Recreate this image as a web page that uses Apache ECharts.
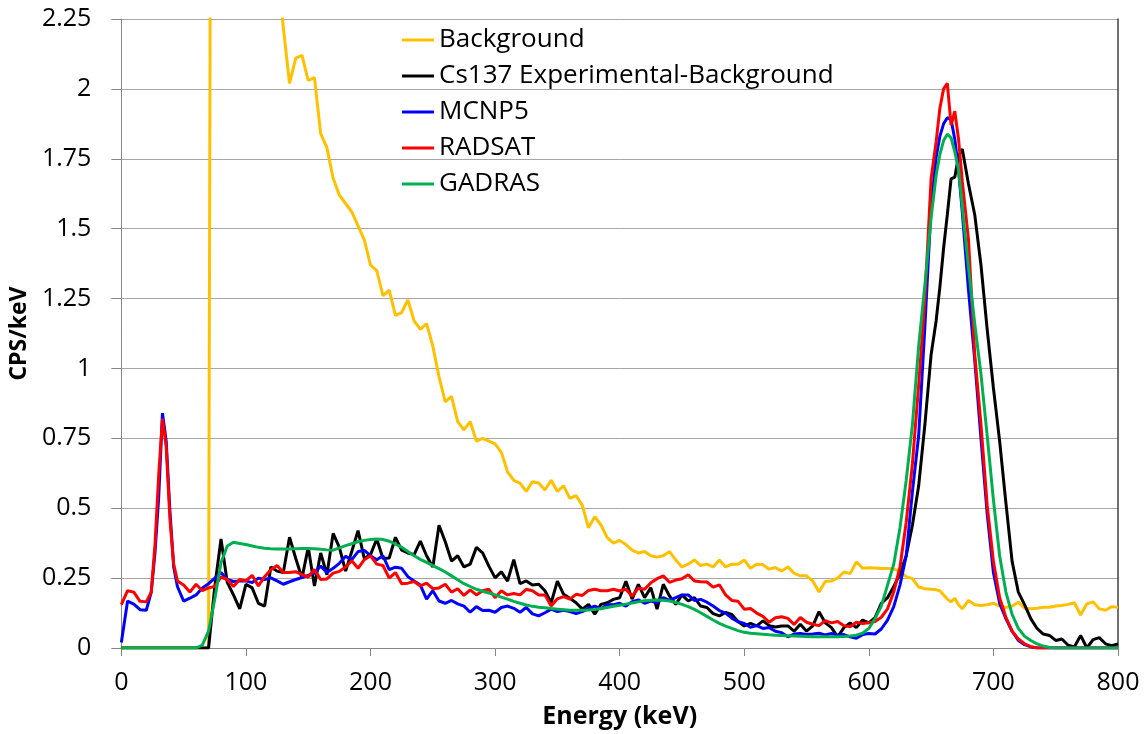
<!DOCTYPE html>
<html>
<head>
<meta charset="utf-8">
<script src="https://cdn.jsdelivr.net/npm/echarts@6/dist/echarts.min.js"></script>
<style>
  html, body { margin: 0; padding: 0; background: #ffffff; }
  #chart { width: 1146px; height: 734px; }
</style>
</head>
<body>
<div id="chart"></div>
<script>
// Energy bins (keV) shared by every spectrum
const energy = [
  0, 5, 10, 15, 20, 24, 27, 30, 33, 36, 39, 42,
  45, 50, 55, 60, 65, 70, 75, 80, 85, 90, 95, 100,
  105, 110, 115, 120, 125, 130, 135, 140, 145, 150,
  155, 160, 165, 170, 175, 180, 185, 190, 195, 200,
  205, 210, 215, 220, 225, 230, 235, 240, 245, 250,
  255, 260, 265, 270, 275, 280, 285, 290, 295, 300,
  305, 310, 315, 320, 325, 330, 335, 340, 345, 350,
  355, 360, 365, 370, 375, 380, 385, 390, 395, 400,
  405, 410, 415, 420, 425, 430, 435, 440, 445, 450,
  455, 460, 465, 470, 475, 480, 485, 490, 495, 500,
  505, 510, 515, 520, 525, 530, 535, 540, 545, 550,
  555, 560, 565, 570, 575, 580, 585, 590, 595, 600,
  605, 610, 615, 620, 625, 630, 635, 640, 645, 650,
  654, 657, 660, 663, 666, 669, 672, 675,
  680, 685, 690, 695, 700,
  705, 710, 715, 720, 725, 730, 735, 740, 745, 750,
  755, 760, 765, 770, 775, 780, 785, 790, 795, 800
];

// CPS/keV for each spectrum, one value per energy bin
const background = [
  0, 0, 0, 0, 0, 0, 0, 0, 0, 0, 0, 0,
  0, 0, 0, 0, 0, 0, 9.0, 8.0, 6.6, 5.6, 4.8, 4.2,
  3.7, 3.25, 2.95, 2.7, 2.48, 2.22, 2.02, 2.11, 2.12, 2.03,
  2.04, 1.84, 1.79, 1.68, 1.62, 1.59, 1.56, 1.51, 1.46, 1.37,
  1.35, 1.26, 1.28, 1.19, 1.2, 1.245, 1.17, 1.14, 1.16, 1.08,
  0.97, 0.88, 0.9, 0.81, 0.78, 0.81, 0.74, 0.75, 0.74, 0.73,
  0.70, 0.63, 0.60, 0.59, 0.56, 0.595, 0.59, 0.565, 0.60, 0.56,
  0.58, 0.535, 0.545, 0.51, 0.43, 0.47, 0.44, 0.395, 0.375, 0.385,
  0.37, 0.35, 0.34, 0.345, 0.33, 0.325, 0.33, 0.345, 0.315, 0.29,
  0.30, 0.315, 0.295, 0.30, 0.29, 0.315, 0.29, 0.30, 0.30, 0.315,
  0.285, 0.30, 0.298, 0.282, 0.288, 0.275, 0.29, 0.268, 0.258, 0.258,
  0.24, 0.20, 0.238, 0.24, 0.25, 0.272, 0.266, 0.308, 0.285, 0.287,
  0.286, 0.284, 0.284, 0.283, 0.274, 0.255, 0.248, 0.218, 0.212, 0.21,
  0.208, 0.205, 0.19, 0.175, 0.165, 0.178, 0.155, 0.14,
  0.17, 0.155, 0.152, 0.155, 0.16,
  0.15, 0.145, 0.15, 0.164, 0.142, 0.14, 0.142, 0.146, 0.146, 0.15,
  0.152, 0.156, 0.162, 0.118, 0.158, 0.165, 0.14, 0.135, 0.148, 0.146
];

const cs137Net = [
  0, 0, 0, 0, 0, 0, 0, 0, 0, 0, 0, 0,
  0, 0, 0, 0, 0, 0, 0.22, 0.39, 0.235, 0.19, 0.14, 0.228,
  0.215, 0.16, 0.15, 0.29, 0.275, 0.27, 0.396, 0.32, 0.25, 0.36,
  0.222, 0.34, 0.262, 0.41, 0.36, 0.275, 0.346, 0.42, 0.32, 0.334,
  0.39, 0.32, 0.322, 0.396, 0.35, 0.34, 0.334, 0.382, 0.33, 0.29,
  0.439, 0.38, 0.311, 0.33, 0.29, 0.30, 0.36, 0.34, 0.293, 0.251,
  0.272, 0.239, 0.316, 0.23, 0.24, 0.225, 0.228, 0.205, 0.162, 0.239,
  0.192, 0.178, 0.162, 0.139, 0.156, 0.121, 0.156, 0.162, 0.174, 0.18,
  0.239, 0.175, 0.228, 0.18, 0.216, 0.139, 0.228, 0.186, 0.156, 0.19,
  0.168, 0.18, 0.15, 0.145, 0.123, 0.115, 0.127, 0.12, 0.095, 0.079,
  0.088, 0.079, 0.097, 0.08, 0.075, 0.079, 0.079, 0.06, 0.085, 0.06,
  0.079, 0.13, 0.09, 0.073, 0.04, 0.073, 0.09, 0.073, 0.1, 0.09,
  0.109, 0.16, 0.18, 0.22, 0.265, 0.33, 0.44, 0.58, 0.80, 1.05,
  1.17, 1.29, 1.43, 1.55, 1.678, 1.684, 1.76, 1.785,
  1.66, 1.55, 1.37, 1.14, 0.93,
  0.74, 0.52, 0.31, 0.2, 0.155, 0.105, 0.07, 0.05, 0.045, 0.027,
  0.032, 0.01, 0.004, 0.045, 0.0, 0.03, 0.037, 0.015, 0.008, 0.015
];

const mcnp5 = [
  0.02, 0.168, 0.157, 0.137, 0.135, 0.2, 0.34, 0.54, 0.84, 0.74, 0.49, 0.29,
  0.22, 0.168, 0.178, 0.19, 0.215, 0.23, 0.25, 0.27, 0.245, 0.238, 0.24, 0.24,
  0.234, 0.25, 0.245, 0.251, 0.24, 0.228, 0.237, 0.245, 0.252, 0.26,
  0.268, 0.293, 0.27, 0.285, 0.303, 0.328, 0.316, 0.345, 0.349, 0.33,
  0.316, 0.33, 0.28, 0.289, 0.285, 0.255, 0.24, 0.225, 0.175, 0.205,
  0.168, 0.16, 0.17, 0.158, 0.15, 0.128, 0.148, 0.134, 0.135, 0.128,
  0.145, 0.15, 0.142, 0.128, 0.145, 0.122, 0.115, 0.126, 0.139, 0.13,
  0.135, 0.13, 0.123, 0.13, 0.142, 0.15, 0.14, 0.156, 0.155, 0.16,
  0.15, 0.166, 0.172, 0.16, 0.168, 0.162, 0.18, 0.17, 0.18, 0.19,
  0.19, 0.17, 0.174, 0.164, 0.15, 0.134, 0.125, 0.107, 0.094, 0.088,
  0.074, 0.08, 0.07, 0.073, 0.06, 0.055, 0.04, 0.05, 0.052, 0.048,
  0.05, 0.053, 0.047, 0.052, 0.046, 0.048, 0.04, 0.035, 0.048, 0.052,
  0.05, 0.068, 0.10, 0.148, 0.225, 0.33, 0.56, 0.76, 1.15, 1.58,
  1.755, 1.83, 1.875, 1.897, 1.89, 1.82, 1.71, 1.56,
  1.28, 1.03, 0.75, 0.48, 0.27,
  0.16, 0.105, 0.06, 0.027, 0.012, 0.004, 0, 0, 0, 0,
  0, 0, 0, 0, 0, 0, 0, 0, 0, 0
];

const radsat = [
  0.155, 0.205, 0.20, 0.167, 0.165, 0.20, 0.37, 0.62, 0.82, 0.72, 0.46, 0.30,
  0.24, 0.225, 0.20, 0.228, 0.205, 0.215, 0.22, 0.254, 0.245, 0.22, 0.245, 0.24,
  0.26, 0.222, 0.255, 0.28, 0.295, 0.27, 0.27, 0.273, 0.262, 0.254,
  0.281, 0.245, 0.247, 0.268, 0.274, 0.29, 0.312, 0.285, 0.316, 0.33,
  0.30, 0.295, 0.25, 0.27, 0.23, 0.232, 0.238, 0.222, 0.232, 0.212,
  0.215, 0.228, 0.2, 0.212, 0.188, 0.208, 0.19, 0.205, 0.21, 0.18,
  0.205, 0.19, 0.195, 0.19, 0.21, 0.205, 0.19, 0.19, 0.15, 0.176,
  0.184, 0.175, 0.192, 0.188, 0.206, 0.21, 0.205, 0.205, 0.21, 0.204,
  0.21, 0.185, 0.214, 0.21, 0.233, 0.248, 0.258, 0.235, 0.243, 0.248,
  0.262, 0.24, 0.237, 0.236, 0.218, 0.226, 0.19, 0.17, 0.167, 0.139,
  0.141, 0.125, 0.113, 0.092, 0.108, 0.112, 0.106, 0.084, 0.109, 0.092,
  0.085, 0.08, 0.098, 0.09, 0.095, 0.08, 0.076, 0.092, 0.088, 0.09,
  0.095, 0.11, 0.14, 0.20, 0.29, 0.45, 0.66, 0.94, 1.25, 1.68,
  1.81, 1.93, 2.0, 2.02, 1.87, 1.92, 1.82, 1.67,
  1.46, 1.05, 0.80, 0.51, 0.31,
  0.18, 0.11, 0.06, 0.032, 0.015, 0.005, 0, 0, 0, 0,
  0, 0, 0, 0, 0, 0, 0, 0, 0, 0
];

const gadras = [
  0, 0, 0, 0, 0, 0, 0, 0, 0, 0, 0, 0,
  0, 0, 0, 0, 0.01, 0.06, 0.175, 0.305, 0.365, 0.378, 0.374, 0.37,
  0.365, 0.36, 0.357, 0.355, 0.354, 0.354, 0.354, 0.355, 0.356, 0.356,
  0.355, 0.353, 0.351, 0.35, 0.358, 0.366, 0.373, 0.38, 0.385, 0.388,
  0.39, 0.388, 0.382, 0.372, 0.36, 0.345, 0.33, 0.317, 0.306, 0.295,
  0.284, 0.272, 0.258, 0.244, 0.23, 0.22, 0.21, 0.203, 0.197, 0.19,
  0.182, 0.175, 0.167, 0.16, 0.154, 0.149, 0.146, 0.144, 0.141, 0.139,
  0.137, 0.135, 0.135, 0.135, 0.136, 0.138, 0.141, 0.145, 0.149, 0.153,
  0.157, 0.161, 0.165, 0.169, 0.171, 0.172, 0.171, 0.168, 0.163, 0.156,
  0.148, 0.138, 0.126, 0.113, 0.1, 0.088, 0.078, 0.07, 0.062, 0.056,
  0.053, 0.051, 0.049, 0.047, 0.046, 0.045, 0.044, 0.043, 0.042, 0.041,
  0.04, 0.04, 0.04, 0.04, 0.04, 0.041, 0.043, 0.046, 0.053, 0.07,
  0.105, 0.15, 0.225, 0.30, 0.43, 0.60, 0.80, 1.08, 1.30, 1.54,
  1.69, 1.765, 1.815, 1.838, 1.825, 1.775, 1.71, 1.58,
  1.36, 1.16, 0.98, 0.76, 0.53,
  0.33, 0.20, 0.12, 0.07, 0.042, 0.027, 0.015, 0.007, 0.002, 0,
  0, 0, 0, 0, 0, 0, 0, 0, 0, 0
];

const seriesNames = ['Background', 'Cs137 Experimental-Background', 'MCNP5', 'RADSAT', 'GADRAS'];
const seriesValues = [background, cs137Net, mcnp5, radsat, gadras];
const seriesColors = ['#FFC000', '#000000', '#0000FF', '#FF0000', '#00B050'];

const FONT = '"Open Sans", "Liberation Sans", sans-serif';

const chart = echarts.init(document.getElementById('chart'), null, { renderer: 'canvas' });

chart.setOption({
  animation: false,
  backgroundColor: '#ffffff',
  textStyle: { fontFamily: FONT, color: '#000000' },
  grid: { left: 121, right: 28, top: 19, bottom: 83, containLabel: false },
  legend: {
    data: seriesNames,
    orient: 'vertical',
    left: 397,
    top: 22,
    icon: 'rect',
    itemWidth: 32,
    itemHeight: 3,
    itemGap: 10,
    textStyle: { fontFamily: FONT, fontSize: 26, color: '#000000', lineHeight: 26 }
  },
  xAxis: {
    type: 'value',
    min: 0,
    max: 800,
    interval: 100,
    name: 'Energy (keV)',
    nameLocation: 'middle',
    nameGap: 56,
    nameTextStyle: { fontFamily: FONT, fontSize: 25, fontWeight: 'bold', color: '#000000' },
    axisLine: { show: true, onZero: false, lineStyle: { color: '#868686', width: 1 } },
    axisTick: { show: true, length: 8, lineStyle: { color: '#868686' } },
    axisLabel: { fontFamily: FONT, fontSize: 25, color: '#000000', margin: 22 },
    splitLine: { show: false }
  },
  yAxis: [
    {
      type: 'value',
      min: 0,
      max: 2.25,
      interval: 0.25,
      name: 'CPS/keV',
      nameLocation: 'middle',
      nameGap: 74,
      nameTextStyle: { fontFamily: FONT, fontSize: 23, fontWeight: 'bold', color: '#000000' },
      axisLine: { show: true, lineStyle: { color: '#868686', width: 1 } },
      axisTick: { show: true, length: 10, lineStyle: { color: '#868686' } },
      axisLabel: { fontFamily: FONT, fontSize: 25, color: '#000000', margin: 30 },
      splitLine: { show: true, lineStyle: { color: '#a6a6a6', width: 1 } }
    },
    {
      type: 'value',
      position: 'right',
      min: 0,
      max: 2.25,
      interval: 0.25,
      axisLine: { show: true, lineStyle: { color: '#404040', width: 1.5 } },
      axisTick: { show: false },
      axisLabel: { show: false },
      splitLine: { show: false }
    }
  ],
  series: seriesNames.map((name, i) => ({
    name: name,
    type: 'line',
    yAxisIndex: 0,
    data: energy.map((e, j) => [e, seriesValues[i][j]]),
    symbol: 'none',
    showSymbol: false,
    clip: true,
    smooth: false,
    lineStyle: { color: seriesColors[i], width: 3 },
    itemStyle: { color: seriesColors[i] },
    emphasis: { disabled: true }
  }))
});
</script>
</body>
</html>
